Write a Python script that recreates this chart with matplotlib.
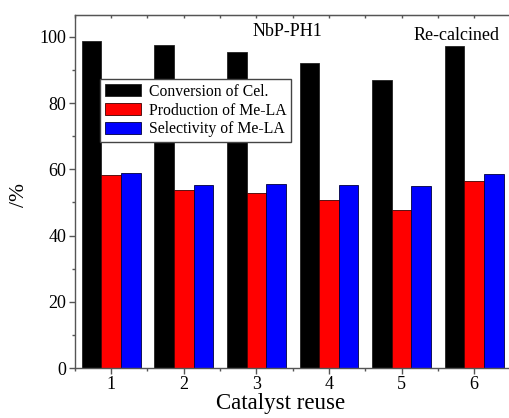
import matplotlib.pyplot as plt
import numpy as np

# dados
ciclos = [1, 2, 3, 4, 5, 6]
conversao = [98.9, 97.6, 95.5, 92.1, 87.0, 97.1]
producao = [58.3, 53.8, 53.0, 50.8, 47.6, 56.6]
seletividade = [59.0, 55.4, 55.7, 55.3, 55.0, 58.5]

plt.rcParams['font.family'] = 'Liberation Serif'

fig = plt.figure(figsize=(5.09, 4.18), dpi=100)
ax = fig.add_axes([0.147, 0.1196, 0.856, 0.8445])

x = np.array(ciclos)
w = 0.27
ax.bar(x - w, conversao, w, color='black', edgecolor='#222222', linewidth=0.6,
       label='Conversion of Cel.')
ax.bar(x, producao, w, color='red', edgecolor='#400000', linewidth=0.6,
       label='Production of Me-LA')
ax.bar(x + w, seletividade, w, color='blue', edgecolor='#000040', linewidth=0.6,
       label='Selectivity of Me-LA')

ax.set_xlim(0.5, 6.5)
ax.set_ylim(0, 106.6)
ax.set_xticks(ciclos)
ax.set_xticks(np.arange(0.5, 7, 1), minor=True)
ax.set_yticks(range(0, 101, 20))
ax.set_yticks(range(10, 101, 20), minor=True)

for s in ax.spines.values():
    s.set_color('#555555')
    s.set_linewidth(1.0)

ax.tick_params(which='major', direction='out', length=4, width=1, color='#555555',
               labelsize=13, pad=2)
ax.tick_params(which='minor', direction='out', length=2.5, width=1, color='#555555')

# ticks pequenos para dentro no eixo de cima
topo = ax.secondary_xaxis('top')
topo.set_xticks(ciclos)
topo.set_xticks(np.arange(0.5, 7, 1), minor=True)
topo.tick_params(which='both', direction='in', length=2.5, width=1,
                 color='#555555', labeltop=False)
topo.spines['top'].set_color('#555555')

ax.text(3.43, 101.5, 'NbP-PH1', fontsize=13, ha='center', va='center')
ax.text(5.75, 100.3, 'Re-calcined', fontsize=13, ha='center', va='center')

leg = ax.legend(loc='upper left', bbox_to_anchor=(100 / 509, 1 - 79 / 418),
                bbox_transform=fig.transFigure, fontsize=11.3, frameon=True,
                fancybox=False, framealpha=1, edgecolor='#444444',
                borderpad=0.3, labelspacing=0.18, handlelength=2.3,
                handleheight=0.8, handletextpad=0.5, borderaxespad=0)
leg.get_frame().set_linewidth(1.0)

fig.text(281 / 509, 1 - 403 / 418, 'Catalyst reuse', fontsize=16.5,
         ha='center', va='center')
fig.text(20 / 509, 1 - 195 / 418, '/%', fontsize=15.5, rotation=90,
         ha='center', va='center')

fig.savefig('out.png', dpi=100)
